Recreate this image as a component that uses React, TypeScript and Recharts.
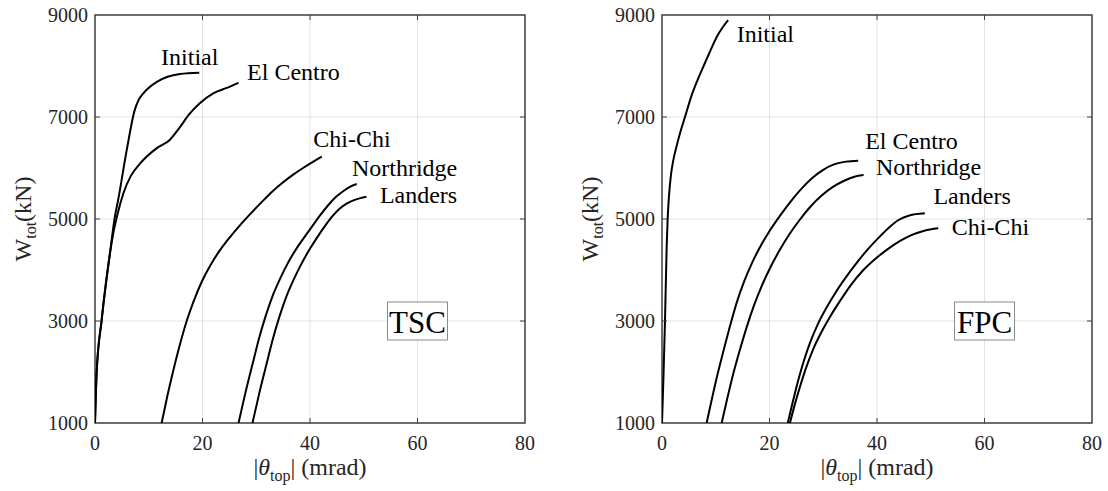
import React from "react";
import {
  LineChart,
  Line,
  XAxis,
  YAxis,
  CartesianGrid,
  ReferenceArea,
  ReferenceDot,
  Label,
} from "recharts";

// ── Data (θ_top in mrad, W_tot in kN) ─────────────────────────────────────────

const X_TICKS = [0, 20, 40, 60, 80];
const Y_TICKS = [1000, 3000, 5000, 7000, 9000];

// TSC panel
const tscInitial = [
  [0, 1000], [0.3, 1980], [1.24, 3020], [2.8, 4340], [3.7, 5045], [4.3, 5370],
  [5.9, 6350], [7.4, 7140], [8.1, 7330], [9.0, 7465], [11.5, 7690], [13.5, 7790],
  [15.8, 7845], [19.4, 7870],
];
const tscElCentro = [
  [0, 1000], [0.3, 1980], [1.24, 3020], [2.8, 4340], [3.4, 4720], [4.2, 5100],
  [5.3, 5510], [6.7, 5850], [8.4, 6090], [11.5, 6390], [13.9, 6550], [15.8, 6800],
  [17.5, 7050], [19.5, 7270], [22, 7465], [24.5, 7570], [26.7, 7670],
];
const tscChiChi = [
  [12.4, 1000], [13.4, 1500], [14.5, 2000], [15.7, 2500], [17.0, 2980], [18.4, 3400],
  [19.9, 3780], [21.5, 4100], [23.2, 4380], [25.0, 4630], [27.0, 4880], [29.0, 5110],
  [31.0, 5330], [33.0, 5540], [35.0, 5720], [37.0, 5880], [39.0, 6020], [40.7, 6130],
  [42.2, 6223],
];
const tscNorthridge = [
  [26.7, 1000], [28.0, 1600], [29.3, 2150], [30.5, 2650], [31.7, 3080], [33.0, 3480],
  [34.4, 3820], [35.8, 4120], [37.3, 4390], [38.8, 4620], [40.3, 4840], [41.8, 5060],
  [43.3, 5260], [44.8, 5430], [46.3, 5555], [47.6, 5640], [48.7, 5686],
];
const tscLanders = [
  [29.3, 1000], [30.6, 1600], [31.9, 2150], [33.1, 2650], [34.3, 3080], [35.6, 3480],
  [37.0, 3820], [38.4, 4120], [39.9, 4400], [41.4, 4650], [42.9, 4880], [44.3, 5070],
  [45.5, 5200], [46.8, 5300], [48.2, 5370], [49.4, 5410], [50.5, 5437],
];

// FPC panel
const fpcInitial = [
  [0, 1000], [0.3, 2000], [0.56, 3020], [0.87, 4450], [1.05, 5000], [1.3, 5450],
  [1.65, 5850], [2.1, 6150], [2.7, 6420], [3.4, 6700], [4.3, 7010], [5.5, 7420],
  [6.6, 7720], [7.7, 7990], [9.0, 8300], [10.2, 8575], [11.3, 8760], [12.3, 8900],
];
const fpcElCentro = [
  [8.3, 1000], [9.3, 1480], [10.3, 1940], [11.4, 2400], [12.6, 2880], [13.9, 3360],
  [15.3, 3780], [16.8, 4150], [18.4, 4480], [20.1, 4780], [22.0, 5070], [24.0, 5350],
  [26.0, 5600], [28.0, 5810], [30.0, 5965], [32.0, 6070], [34.2, 6125], [36.5, 6143],
];
const fpcNorthridge = [
  [11.1, 1000], [12.1, 1460], [13.2, 1940], [14.4, 2400], [15.7, 2860], [17.1, 3300],
  [18.6, 3700], [20.2, 4060], [21.9, 4390], [23.7, 4700], [25.6, 4980], [27.6, 5240],
  [29.7, 5460], [31.8, 5630], [33.9, 5750], [35.8, 5830], [37.5, 5863],
];
const fpcLanders = [
  [23.4, 1000], [24.3, 1400], [25.3, 1820], [26.4, 2220], [27.6, 2590], [29.0, 2940],
  [30.6, 3260], [32.3, 3560], [34.1, 3840], [36.0, 4110], [38.0, 4370], [40.0, 4600],
  [42.0, 4810], [44.0, 4980], [46.0, 5070], [48.9, 5111],
];
const fpcChiChi = [
  [23.8, 1000], [24.7, 1360], [25.7, 1720], [26.8, 2080], [28.1, 2440], [29.6, 2770],
  [31.3, 3090], [33.1, 3390], [35.1, 3700], [37.3, 3980], [39.6, 4210], [42.0, 4410],
  [44.3, 4570], [46.5, 4690], [48.8, 4770], [51.4, 4817],
];

// curve name tags, anchored (start / baseline) in data coords
const tscTags = [
  { text: "Initial", x: 12.3, y: 8020 },
  { text: "El Centro", x: 28.3, y: 7725 },
  { text: "Chi-Chi", x: 40.6, y: 6418 },
  { text: "Northridge", x: 47.8, y: 5843 },
  { text: "Landers", x: 53.0, y: 5320 },
];
const fpcTags = [
  { text: "Initial", x: 13.9, y: 8477 },
  { text: "El Centro", x: 37.8, y: 6366 },
  { text: "Northridge", x: 39.8, y: 5863 },
  { text: "Landers", x: 50.5, y: 5294 },
  { text: "Chi-Chi", x: 53.9, y: 4686 },
];

// ── Layout ────────────────────────────────────────────────────────────────────

const FONT = '"Liberation Serif", "Times New Roman", serif';
const W = 541;
const H = 491;
const PLOT_LEFT = 95;
const PLOT_RIGHT = 525;
const PLOT_TOP = 15;
const PLOT_BOTTOM = 423;
const AXIS = "#404040";
const TICK_LEN = 5;

const toPts = (arr: number[][]) => arr.map(([x, y]) => ({ x, y }));

const XTick = (props: any) => {
  const { x, payload } = props;
  const inner = payload.value !== 0 && payload.value !== 80;
  return (
    <g>
      <text x={x} y={450} textAnchor="middle" fontSize={20} fontFamily={FONT} fill="#262626">
        {payload.value}
      </text>
      {inner && (
        <>
          <line x1={x} x2={x} y1={PLOT_BOTTOM} y2={PLOT_BOTTOM - TICK_LEN} stroke={AXIS} />
          <line x1={x} x2={x} y1={PLOT_TOP} y2={PLOT_TOP + TICK_LEN} stroke={AXIS} />
        </>
      )}
    </g>
  );
};

const YTick = (props: any) => {
  const { y, payload } = props;
  const inner = payload.value !== 1000 && payload.value !== 9000;
  return (
    <g>
      <text x={88} y={y + 7} textAnchor="end" fontSize={20} fontFamily={FONT} fill="#262626">
        {payload.value}
      </text>
      {inner && (
        <>
          <line x1={PLOT_LEFT} x2={PLOT_LEFT + TICK_LEN} y1={y} y2={y} stroke={AXIS} />
          <line x1={PLOT_RIGHT} x2={PLOT_RIGHT - TICK_LEN} y1={y} y2={y} stroke={AXIS} />
        </>
      )}
    </g>
  );
};

const YTitle = () => {
  const x = 31;
  const y = 219;
  return (
    <text
      x={x}
      y={y}
      transform={`rotate(-90 ${x} ${y})`}
      textAnchor="middle"
      fontSize={24}
      fontFamily={FONT}
      fill="#262626"
    >
      W<tspan dy={5} fontSize={16}>tot</tspan>
      <tspan dy={-5}>(kN)</tspan>
    </text>
  );
};

const XTitle = () => (
  <text x={310} y={475} textAnchor="middle" fontSize={24} fontFamily={FONT} fill="#262626">
    |<tspan fontStyle="italic">θ</tspan>
    <tspan dy={6} fontSize={16}>top</tspan>
    <tspan dy={-6}>{"| (mrad)"}</tspan>
  </text>
);

interface PanelProps {
  series: number[][][];
  tags: { text: string; x: number; y: number }[];
  title: string;
  left: number;
}

function Panel({ series, tags, title, left }: PanelProps) {
  return (
    <div style={{ position: "absolute", left, top: 0 }}>
      <LineChart
        width={W}
        height={H}
        margin={{ top: PLOT_TOP, right: W - PLOT_RIGHT, bottom: 0, left: 0 }}
      >
        <CartesianGrid stroke="#e2e2e2" strokeWidth={1} />
        <XAxis
          type="number"
          dataKey="x"
          domain={[0, 80]}
          ticks={X_TICKS}
          allowDataOverflow
          axisLine={false}
          tickLine={false}
          tickSize={0}
          height={H - PLOT_BOTTOM}
          tick={<XTick />}
        >
          <Label content={<XTitle />} />
        </XAxis>
        <YAxis
          type="number"
          dataKey="y"
          domain={[1000, 9000]}
          ticks={Y_TICKS}
          allowDataOverflow
          axisLine={false}
          tickLine={false}
          tickSize={0}
          width={PLOT_LEFT}
          tick={<YTick />}
        >
          <Label content={<YTitle />} />
        </YAxis>
        {series.map((s, i) => (
          <Line
            key={i}
            data={toPts(s)}
            dataKey="y"
            type="monotone"
            stroke="#000"
            strokeWidth={2}
            dot={false}
            isAnimationActive={false}
          />
        ))}
        <ReferenceArea
          x1={0}
          x2={80}
          y1={1000}
          y2={9000}
          fill="none"
          stroke={AXIS}
          strokeWidth={1.5}
        />
        {tags.map((t) => (
          <ReferenceDot
            key={t.text}
            x={t.x}
            y={t.y}
            r={0}
            shape={(p: any) => (
              <text x={p.cx} y={p.cy} fontSize={24} fontFamily={FONT} fill="#000">
                {t.text}
              </text>
            )}
          />
        ))}
        <ReferenceDot
          x={60}
          y={3000}
          r={0}
          shape={(p: any) => (
            <g>
              <rect
                x={p.cx - 30}
                y={p.cy - 19}
                width={60}
                height={38}
                fill="#fff"
                stroke="#8a8a8a"
                strokeWidth={1}
              />
              <text
                x={p.cx}
                y={p.cy + 12}
                textAnchor="middle"
                fontSize={31}
                fontFamily={FONT}
                fill="#000"
              >
                {title}
              </text>
            </g>
          )}
        />
      </LineChart>
    </div>
  );
}

export default function App() {
  return (
    <div
      style={{
        position: "absolute",
        left: 0,
        top: 0,
        width: 1108,
        height: 491,
        background: "#fff",
      }}
    >
      <Panel
        left={0}
        title="TSC"
        series={[tscInitial, tscElCentro, tscChiChi, tscNorthridge, tscLanders]}
        tags={tscTags}
      />
      <Panel
        left={567}
        title="FPC"
        series={[fpcInitial, fpcElCentro, fpcNorthridge, fpcLanders, fpcChiChi]}
        tags={fpcTags}
      />
    </div>
  );
}
